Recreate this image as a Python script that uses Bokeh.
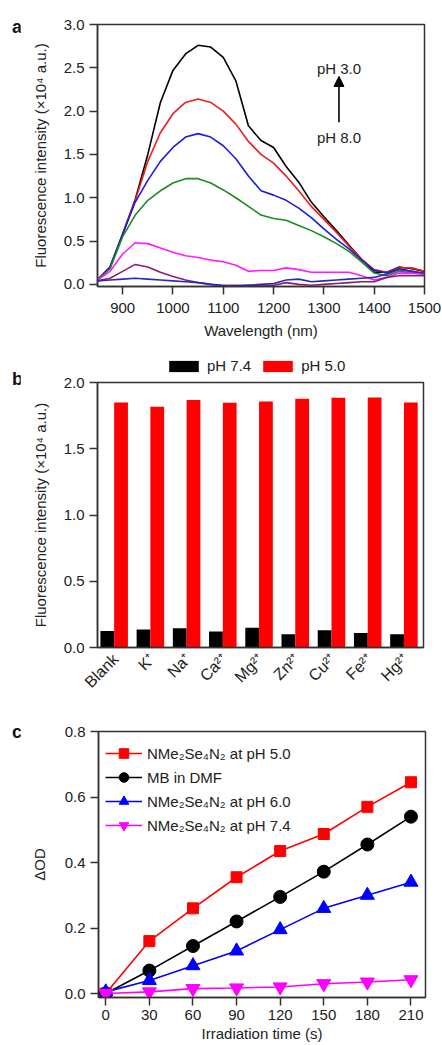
from math import pi
from bokeh.plotting import figure
from bokeh.models import (ColumnDataSource, Range1d, FactorRange, FixedTicker,
                          PrintfTickFormatter, Label, Arrow, NormalHead, Legend, LegendItem, Div)
from bokeh.layouts import column, row
from bokeh.transform import dodge
from bokeh.embed import file_html
from bokeh.resources import INLINE

FONT = "Liberation Sans"
TXT = "#222222"
AX = "#333333"

# ---------------- Panel a data ----------------
wavelength = [850, 875, 900, 925, 950, 975, 1000, 1025, 1050, 1075, 1100, 1125, 1150, 1175,
              1200, 1225, 1250, 1275, 1300, 1325, 1350, 1375, 1400, 1425, 1450, 1475, 1500]
fl_black = [0.05, 0.2, 0.58, 0.98, 1.5, 2.1, 2.47, 2.66, 2.76, 2.74, 2.62, 2.35, 1.83, 1.66,
            1.58, 1.36, 1.18, 0.95, 0.78, 0.62, 0.45, 0.29, 0.14, 0.14, 0.2, 0.18, 0.15]
fl_red = [0.05, 0.2, 0.58, 0.97, 1.42, 1.75, 1.97, 2.1, 2.14, 2.1, 2.0, 1.85, 1.65, 1.5,
          1.4, 1.25, 1.08, 0.9, 0.75, 0.6, 0.44, 0.29, 0.17, 0.14, 0.19, 0.19, 0.15]
fl_blue = [0.05, 0.2, 0.58, 0.95, 1.2, 1.42, 1.58, 1.7, 1.74, 1.7, 1.6, 1.45, 1.25, 1.08,
           1.03, 0.97, 0.88, 0.77, 0.64, 0.52, 0.41, 0.28, 0.16, 0.13, 0.18, 0.15, 0.12]
fl_green = [0.05, 0.18, 0.55, 0.8, 0.97, 1.08, 1.17, 1.22, 1.22, 1.17, 1.09, 1.0, 0.9, 0.8,
            0.76, 0.74, 0.68, 0.62, 0.55, 0.47, 0.38, 0.26, 0.13, 0.1, 0.15, 0.13, 0.12]
fl_magenta = [0.05, 0.15, 0.35, 0.48, 0.47, 0.42, 0.37, 0.33, 0.31, 0.28, 0.26, 0.22, 0.15, 0.16,
              0.16, 0.19, 0.17, 0.14, 0.14, 0.14, 0.14, 0.1, 0.05, 0.08, 0.13, 0.13, 0.12]
fl_purple = [0.04, 0.07, 0.15, 0.23, 0.2, 0.14, 0.09, 0.05, 0.02, 0.0, -0.01, -0.01, -0.01, -0.01,
             -0.01, 0.02, 0.0, -0.01, 0.0, 0.01, 0.02, 0.03, 0.03, 0.08, 0.1, 0.1, 0.1]
fl_darkblue = [0.04, 0.05, 0.06, 0.07, 0.06, 0.05, 0.04, 0.03, 0.02, 0.0, -0.02, -0.02, -0.01, 0.0,
               0.01, 0.05, 0.06, 0.03, 0.04, 0.05, 0.06, 0.07, 0.08, 0.12, 0.17, 0.15, 0.13]
curve_colors = ["#000000", "#ee1c1c", "#1c1ce0", "#1f8a1f", "#ff1aff", "#8b1f6e", "#2a2ab8"]
curves = [fl_black, fl_red, fl_blue, fl_green, fl_magenta, fl_purple, fl_darkblue]
a_xticks = [900, 1000, 1100, 1200, 1300, 1400, 1500]
a_yticks = [0.0, 0.5, 1.0, 1.5, 2.0, 2.5, 3.0]

# ---------------- Panel b data ----------------
ions = ["Blank", "K⁺", "Na⁺", "Ca²⁺", "Mg²⁺", "Zn²⁺", "Cu²⁺", "Fe²⁺", "Hg²⁺"]
int_ph74 = [0.125, 0.135, 0.145, 0.12, 0.15, 0.10, 0.13, 0.11, 0.10]
int_ph50 = [1.85, 1.817, 1.867, 1.847, 1.857, 1.877, 1.885, 1.887, 1.85]
b_series = ["pH 7.4", "pH 5.0"]
b_yticks = [0.0, 0.5, 1.0, 1.5, 2.0]

# ---------------- Panel c data ----------------
time_s = [0, 30, 60, 90, 120, 150, 180, 210]
od_ph50 = [0.0, 0.16, 0.26, 0.355, 0.435, 0.487, 0.57, 0.645]
od_mb = [0.0, 0.07, 0.145, 0.22, 0.295, 0.372, 0.455, 0.54]
od_ph60 = [0.005, 0.04, 0.085, 0.13, 0.195, 0.26, 0.30, 0.34]
od_ph74 = [0.0, 0.005, 0.015, 0.017, 0.02, 0.03, 0.035, 0.042]
c_labels = ["NMe₂Se₄N₂ at pH 5.0", "MB in DMF", "NMe₂Se₄N₂ at pH 6.0", "NMe₂Se₄N₂ at pH 7.4"]
c_xticks = [0, 30, 60, 90, 120, 150, 180, 210]
c_yticks = [0.0, 0.2, 0.4, 0.6, 0.8]

LEFT_DIV = 20


def style(p):
    p.outline_line_color = AX
    p.outline_line_width = 1.5
    p.outline_line_alpha = 1
    p.grid.visible = False
    for ax in p.axis:
        ax.axis_line_color = AX
        ax.axis_line_width = 1.5
        ax.major_tick_out = 8
        ax.major_tick_in = 0
        ax.major_tick_line_color = AX
        ax.major_tick_line_width = 1.5
        ax.minor_tick_line_color = None
        ax.major_label_text_font = FONT
        ax.major_label_text_font_size = "15px"
        ax.major_label_text_color = TXT
        ax.axis_label_text_font = FONT
        ax.axis_label_text_font_size = "15px"
        ax.axis_label_text_font_style = "normal"
        ax.axis_label_text_color = TXT
    p.yaxis.major_label_standoff = 5


def letter(txt, pad_top, h):
    html = ('<div style="font-family:\'Liberation Sans\',Arial,sans-serif;font-weight:bold;'
            'font-size:18px;line-height:18px;color:#111;padding-left:12px;'
            'padding-top:%dpx">%s</div>' % (pad_top, txt))
    return Div(text=html, width=LEFT_DIV, height=h, margin=0)


# ================= Figure a =================
HA = 350
pa = figure(width=422, height=HA, output_backend="svg", toolbar_location=None,
            x_range=Range1d(850, 1500), y_range=Range1d(-0.025, 3.0),
            min_border_left=77, min_border_right=18, min_border_top=24, min_border_bottom=64)
for ys, col in zip(curves, curve_colors):
    pa.line(wavelength, ys, line_color=col, line_width=1.6)
style(pa)
pa.xaxis.ticker = FixedTicker(ticks=a_xticks)
pa.yaxis.ticker = FixedTicker(ticks=a_yticks)
pa.yaxis.formatter = PrintfTickFormatter(format="%.1f")
pa.xaxis.axis_label = "Wavelength (nm)"
pa.yaxis.axis_label = "Fluorescence intensity (×10⁴ a.u.)"
pa.xaxis.major_label_standoff = 8
pa.xaxis.axis_label_standoff = 6
pa.yaxis.axis_label_standoff = 12
pa.add_layout(Arrow(end=NormalHead(size=10, fill_color="black", line_color="black"),
                    x_start=1330, y_start=1.87, x_end=1330, y_end=2.40,
                    line_color="black", line_width=1.6))
for t, yv in (("pH 3.0", 2.49), ("pH 8.0", 1.70)):
    pa.add_layout(Label(x=1330, y=yv, text=t, text_font=FONT, text_font_size="15px",
                        text_color=TXT, text_align="center", text_baseline="middle"))

# ================= Figure b (legend strip + bars) =================
HBL = 24
HB = 326
srcb = ColumnDataSource(dict(ion=ions, ph74=int_ph74, ph50=int_ph50))

pb = figure(width=422, height=HB, output_backend="svg", toolbar_location=None,
            x_range=FactorRange(factors=ions, range_padding=0), y_range=Range1d(0, 2.0),
            min_border_left=77, min_border_right=19, min_border_top=8, min_border_bottom=53)
pb.vbar(x=dodge("ion", -0.23, range=pb.x_range), top="ph74", width=0.38, source=srcb,
        fill_color="#000000", line_color=None)
pb.vbar(x=dodge("ion", 0.15, range=pb.x_range), top="ph50", width=0.38, source=srcb,
        fill_color="#ff0000", line_color=None)
style(pb)
pb.yaxis.ticker = FixedTicker(ticks=b_yticks)
pb.yaxis.formatter = PrintfTickFormatter(format="%.1f")
pb.yaxis.axis_label = "Fluorescence intensity (×10⁴ a.u.)"
pb.yaxis.axis_label_standoff = 12
pb.xaxis.major_tick_line_color = None
pb.xaxis.major_tick_out = 0
pb.xaxis.major_label_orientation = pi / 4
pb.xaxis.major_label_standoff = 9
pb.xaxis.major_label_text_font_size = "16px"

# legend strip above the bar chart (bars are out of its view; only the key shows)
pbl = figure(width=422, height=HBL, output_backend="svg", toolbar_location=None,
             x_range=pb.x_range, y_range=Range1d(10, 11), x_axis_type=None, y_axis_type=None,
             min_border_left=77, min_border_right=19, min_border_top=0, min_border_bottom=0)
pbl.outline_line_color = None
pbl.grid.visible = False
lr1 = pbl.vbar(x=dodge("ion", -0.23, range=pb.x_range), top="ph74", width=0.38, source=srcb,
               fill_color="#000000", line_color=None)
lr2 = pbl.vbar(x=dodge("ion", 0.15, range=pb.x_range), top="ph50", width=0.38, source=srcb,
               fill_color="#ff0000", line_color=None)
legb = Legend(items=[LegendItem(label=b_series[0], renderers=[lr1], index=0),
                     LegendItem(label=b_series[1], renderers=[lr2], index=0)],
              orientation="horizontal", location=(68, 0), glyph_width=37, glyph_height=14,
              label_standoff=5, spacing=8, padding=0, margin=0, border_line_color=None,
              background_fill_alpha=0, label_text_font=FONT, label_text_font_size="15px",
              label_text_color=TXT, label_height=15)
pbl.add_layout(legb, "center")

# ================= Figure c =================
HC = 344
pc = figure(width=422, height=HC, output_backend="svg", toolbar_location=None,
            x_range=Range1d(-5, 220), y_range=Range1d(-0.0122, 0.8),
            min_border_left=78, min_border_right=17, min_border_top=31, min_border_bottom=47)
series = [(od_ph50, "#ff0000", "square", 11),
          (od_mb, "#000000", "circle", 13),
          (od_ph60, "#0000ff", "triangle", 14),
          (od_ph74, "#ff00ff", "inverted_triangle", 14)]
items = []
for (ys, col, mk, sz), lab in zip(series, c_labels):
    lr = pc.line(time_s, ys, line_color=col, line_width=1.6)
    sr = pc.scatter(time_s, ys, marker=mk, size=sz, fill_color=col, line_color=col)
    items.append(LegendItem(label=lab, renderers=[lr, sr]))
style(pc)
pc.xaxis.ticker = FixedTicker(ticks=c_xticks)
pc.yaxis.ticker = FixedTicker(ticks=c_yticks)
pc.yaxis.formatter = PrintfTickFormatter(format="%.1f")
pc.xaxis.axis_label = "Irradiation time (s)"
pc.yaxis.axis_label = "ΔOD"
pc.xaxis.major_label_standoff = 4
pc.xaxis.axis_label_standoff = 2
pc.yaxis.axis_label_standoff = 14
legc = Legend(items=items, location=(7, 266 - 106), glyph_width=37, glyph_height=24,
              label_height=24, label_standoff=5, spacing=0, padding=5, margin=0,
              border_line_color=None, background_fill_alpha=0, label_text_font=FONT,
              label_text_font_size="15px", label_text_color=TXT)
pc.add_layout(legc, "center")

layout = column(row(letter("a", 18, HA), pa, spacing=0),
                row(letter("b", 20, HBL + HB), column(pbl, pb, spacing=0), spacing=0),
                row(letter("c", 23, HC), pc, spacing=0),
                spacing=0)
open("out.html", "w").write(file_html(layout, INLINE))
